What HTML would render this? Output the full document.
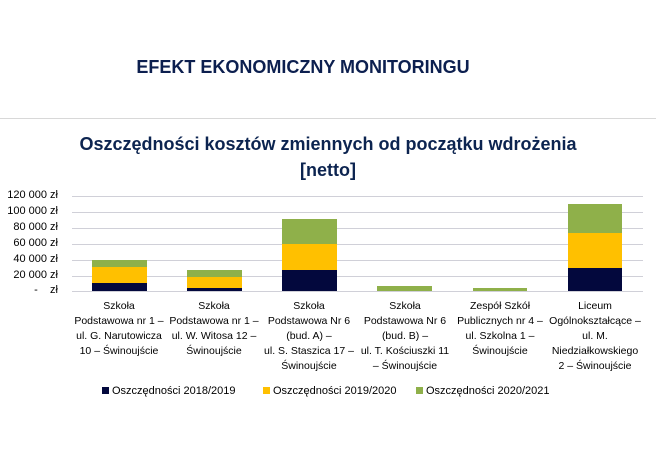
<!DOCTYPE html>
<html><head><meta charset="utf-8"><style>
body{margin:0;width:656px;height:469px;background:#fff;font-family:"Liberation Sans",sans-serif;position:relative;overflow:hidden}
.a{position:absolute}
.yl{position:absolute;right:598px;font-size:11px;color:#000;width:70px;text-align:right}
.g{position:absolute;left:72px;width:571px;height:1px;background:#d0d0d8}
.cat{position:absolute;top:299px;width:110px;text-align:center;font-size:10.5px;line-height:15px;color:#000;white-space:nowrap}
.b{position:absolute}
.lg{position:absolute;top:385px;font-size:11px;color:#000}
.lg i{display:inline-block;width:7px;height:7px;margin-right:3px;vertical-align:0}
</style></head><body>
<div class="a" style="left:0;width:606px;top:57px;text-align:center;font-weight:bold;font-size:18px;color:#0c1f4f">EFEKT EKONOMICZNY MONITORINGU</div>
<div class="a" style="left:0;top:118px;width:656px;height:1px;background:#d8d8d8"></div>
<div class="a" style="left:0;width:656px;top:131px;text-align:center;font-weight:bold;font-size:18px;line-height:26px;color:#0c2450">Oszczędności kosztów zmiennych od początku wdrożenia<br>[netto]</div>
<div class="g" style="top:196px"></div><div class="g" style="top:212px"></div><div class="g" style="top:228px"></div><div class="g" style="top:244px"></div><div class="g" style="top:260px"></div><div class="g" style="top:276px"></div><div class="g" style="top:291px"></div>
<div class="yl" style="top:189px">120 000 zł</div>
<div class="yl" style="top:205px">100 000 zł</div>
<div class="yl" style="top:221px">80 000 zł</div>
<div class="yl" style="top:237px">60 000 zł</div>
<div class="yl" style="top:253px">40 000 zł</div>
<div class="yl" style="top:269px">20 000 zł</div>
<div class="yl" style="top:284px">-&nbsp;&nbsp;&nbsp; zł</div>
<div class="b" style="left:92px;width:55px;top:260px;height:7px;background:#8fb04a"></div>
<div class="b" style="left:92px;width:55px;top:267px;height:16px;background:#ffc000"></div>
<div class="b" style="left:92px;width:55px;top:283px;height:8px;background:#03083d"></div>
<div class="b" style="left:187px;width:55px;top:270px;height:7px;background:#8fb04a"></div>
<div class="b" style="left:187px;width:55px;top:277px;height:11px;background:#ffc000"></div>
<div class="b" style="left:187px;width:55px;top:288px;height:3px;background:#03083d"></div>
<div class="b" style="left:282px;width:55px;top:219px;height:25px;background:#8fb04a"></div>
<div class="b" style="left:282px;width:55px;top:244px;height:26px;background:#ffc000"></div>
<div class="b" style="left:282px;width:55px;top:270px;height:21px;background:#03083d"></div>
<div class="b" style="left:377px;width:55px;top:286px;height:5px;background:#8fb04a"></div>
<div class="b" style="left:473px;width:54px;top:288px;height:3px;background:#8fb04a"></div>
<div class="b" style="left:568px;width:54px;top:204px;height:29px;background:#8fb04a"></div>
<div class="b" style="left:568px;width:54px;top:233px;height:35px;background:#ffc000"></div>
<div class="b" style="left:568px;width:54px;top:268px;height:23px;background:#03083d"></div>
<div class="cat" style="left:64px">Szkoła<br>Podstawowa nr 1 –<br>ul. G. Narutowicza<br>10 – Świnoujście</div>
<div class="cat" style="left:159px">Szkoła<br>Podstawowa nr 1 –<br>ul. W. Witosa 12 –<br>Świnoujście</div>
<div class="cat" style="left:254px">Szkoła<br>Podstawowa Nr 6<br>(bud. A) –<br>ul. S. Staszica 17 –<br>Świnoujście</div>
<div class="cat" style="left:350px">Szkoła<br>Podstawowa Nr 6<br>(bud. B) –<br>ul. T. Kościuszki 11<br>– Świnoujście</div>
<div class="cat" style="left:445px">Zespół Szkół<br>Publicznych nr 4 –<br>ul. Szkolna 1 –<br>Świnoujście</div>
<div class="cat" style="left:540px">Liceum<br>Ogólnokształcące –<br>ul. M.<br>Niedziałkowskiego<br>2 – Świnoujście</div>
<div class="lg" style="left:102px"><i style="background:#03083d"></i>Oszczędności 2018/2019</div>
<div class="lg" style="left:263px"><i style="background:#ffc000"></i>Oszczędności 2019/2020</div>
<div class="lg" style="left:416px"><i style="background:#8fb04a"></i>Oszczędności 2020/2021</div>
</body></html>
